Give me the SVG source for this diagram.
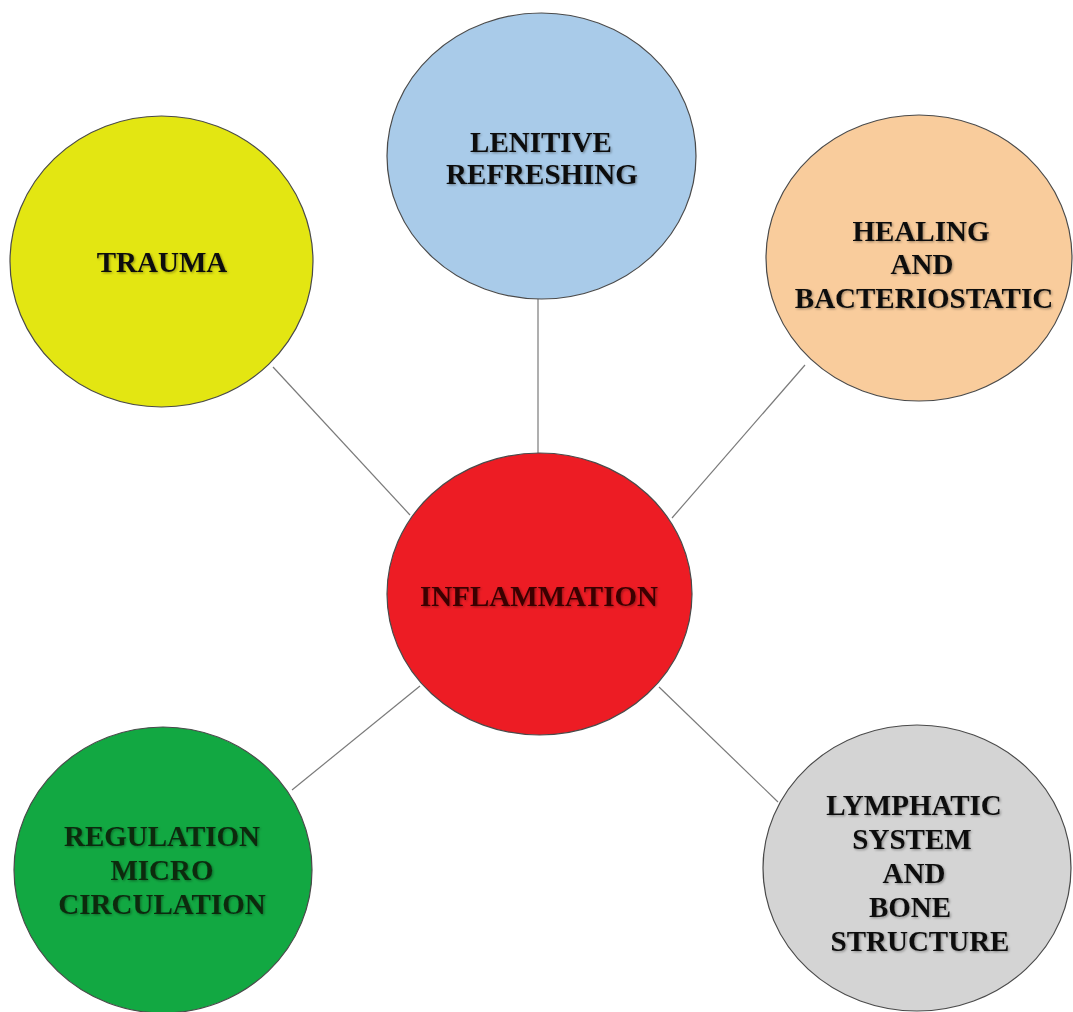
<svg xmlns="http://www.w3.org/2000/svg" width="1073" height="1012" viewBox="0 0 1073 1012">
<style>
.node ellipse{stroke:#4a4a4a;stroke-width:1.2}
.node text{font-family:"Liberation Serif","Times New Roman",serif;font-weight:bold;font-size:29px;fill:#111;text-anchor:middle;filter:url(#sh)}
.conn line{stroke:#7a7a7a;stroke-width:1.2}
</style>
<defs>
<filter id="sh" x="-10%" y="-30%" width="120%" height="160%">
<feDropShadow dx="1.2" dy="1.2" stdDeviation="0.8" flood-color="#000" flood-opacity="0.35"/>
</filter>
</defs>
<rect width="1073" height="1012" fill="#ffffff"/>
<g id="connectors" class="conn">
<line x1="273" y1="367" x2="410" y2="515"/>
<line x1="538" y1="299" x2="538" y2="453"/>
<line x1="805" y1="365" x2="672" y2="518"/>
<line x1="292" y1="790" x2="420" y2="686"/>
<line x1="659" y1="687" x2="778" y2="802"/>
</g>
<g id="trauma" class="node">
<ellipse cx="161.5" cy="261.5" rx="151.5" ry="145.5" fill="#e3e612"/>
<text x="162" y="272">TRAUMA</text>
</g>
<g id="lenitive" class="node">
<ellipse cx="541.5" cy="156" rx="154.5" ry="143" fill="#a9cbe9"/>
<text x="541" y="152">LENITIVE</text>
<text x="542" y="184">REFRESHING</text>
</g>
<g id="healing" class="node">
<ellipse cx="919" cy="258" rx="153" ry="143" fill="#f9cc9c"/>
<text x="921" y="241">HEALING</text>
<text x="922" y="274">AND</text>
<text x="924" y="308">BACTERIOSTATIC</text>
</g>
<g id="inflammation" class="node">
<ellipse cx="539.5" cy="594" rx="152.5" ry="141" fill="#ed1c24"/>
<text x="539" y="606" style="fill:#3a0606">INFLAMMATION</text>
</g>
<g id="regulation" class="node">
<ellipse cx="163" cy="870" rx="149" ry="143" fill="#12a842"/>
<text x="162" y="846" style="fill:#0a2a10">REGULATION</text>
<text x="162" y="880" style="fill:#0a2a10">MICRO</text>
<text x="162" y="914" style="fill:#0a2a10">CIRCULATION</text>
</g>
<g id="lymphatic" class="node">
<ellipse cx="917" cy="868" rx="154" ry="143" fill="#d4d4d4"/>
<text x="914" y="815">LYMPHATIC</text>
<text x="912" y="849">SYSTEM</text>
<text x="914" y="883">AND</text>
<text x="910" y="917">BONE</text>
<text x="920" y="951">STRUCTURE</text>
</g>
</svg>
